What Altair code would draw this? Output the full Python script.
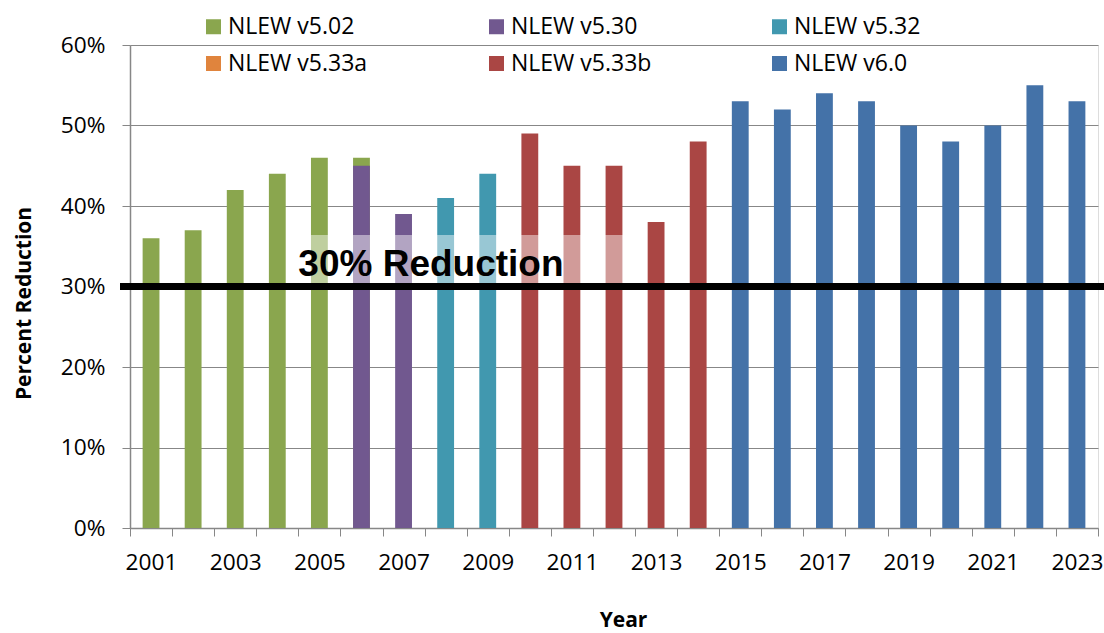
import altair as alt
import pandas as pd

# NLEW nitrogen-reduction estimates by model version
years = list(range(2001, 2024))
versions = ["NLEW v5.02", "NLEW v5.30", "NLEW v5.32", "NLEW v5.33a", "NLEW v5.33b", "NLEW v6.0"]
colors = ["#8aa64e", "#71588f", "#4198af", "#e0843d", "#aa4644", "#4472a8"]

v502_years = [2001, 2002, 2003, 2004, 2005, 2006]
v502_vals = [36, 37, 42, 44, 46, 46]
v530_years = [2006, 2007]
v530_vals = [45, 39]
v532_years = [2008, 2009]
v532_vals = [41, 44]
v533a_years = []
v533a_vals = []
v533b_years = [2010, 2011, 2012, 2013, 2014]
v533b_vals = [49, 45, 45, 38, 48]
v60_years = [2015, 2016, 2017, 2018, 2019, 2020, 2021, 2022, 2023]
v60_vals = [53, 52, 54, 53, 50, 48, 50, 55, 53]

target = 30
target_label = "30% Reduction"

series = [
    (versions[0], v502_years, v502_vals),
    (versions[1], v530_years, v530_vals),
    (versions[2], v532_years, v532_vals),
    (versions[3], v533a_years, v533a_vals),
    (versions[4], v533b_years, v533b_vals),
    (versions[5], v60_years, v60_vals),
]
rows = []
for name, ys, vs in series:
    for y, v in zip(ys, vs):
        rows.append({"year": y, "pct": v, "version": name})
bars_df = pd.DataFrame(rows)

W, H = 968, 483
FONT = "Open Sans"
GRID = "#878787"

x_scale = alt.Scale(domain=years, paddingInner=0, paddingOuter=0)
y_scale = alt.Scale(domain=[0, 60], nice=False)

bars = alt.Chart(bars_df).mark_bar(width=alt.RelativeBandSize(0.4)).encode(
    x=alt.X(
        "year:O",
        scale=x_scale,
        title="Year",
        axis=alt.Axis(
            tickBand="extent",
            labelAngle=0,
            labelExpr="datum.value % 2 == 1 ? datum.label : ''",
            labelFont=FONT,
            labelFontSize=22.7,
            labelColor="black",
            labelPadding=15,
            tickSize=8,
            tickColor=GRID,
            domainColor=GRID,
            domainWidth=1.5,
            grid=False,
            titleFont=FONT,
            titleFontSize=21,
            titleFontWeight="bold",
            titleColor="black",
            titleX=493,
            titleY=98,
            titleBaseline="alphabetic",
        ),
    ),
    y=alt.Y(
        "pct:Q",
        scale=y_scale,
        stack=None,
        title="Percent Reduction",
        axis=alt.Axis(
            values=[0, 10, 20, 30, 40, 50, 60],
            labelExpr="datum.value + '%'",
            labelFont=FONT,
            labelFontSize=22.7,
            labelColor="black",
            labelPadding=17,
            tickSize=8,
            tickColor=GRID,
            domainColor=GRID,
            domainWidth=1.5,
            grid=True,
            gridColor=GRID,
            gridWidth=1.2,
            titleFont=FONT,
            titleFontSize=21,
            titleFontWeight="bold",
            titleColor="black",
            titleX=-100,
            titleY=258,
            titleBaseline="alphabetic",
            titleAngle=270,
        ),
    ),
    color=alt.Color(
        "version:N",
        scale=alt.Scale(domain=versions, range=colors),
        legend=alt.Legend(
            title=None,
            orient="none",
            legendX=72,
            legendY=-30,
            direction="horizontal",
            columns=3,
            columnPadding=116,
            rowPadding=13,
            gridAlign="all",
            padding=0,
            symbolType="square",
            symbolSize=225,
            symbolStrokeWidth=0,
            labelFont=FONT,
            labelFontSize=23,
            labelColor="black",
            labelOffset=3,
        ),
    ),
)

# translucent backing panel behind the target label
box_df = pd.DataFrame({"year": [2004], "year_end": [2013], "top": [36.4], "bottom": [30.2]})
box = alt.Chart(box_df).mark_rect(color="white", opacity=0.46).encode(
    x=alt.X("year:O", scale=x_scale, bandPosition=0.75),
    x2=alt.X2("year_end", bandPosition=0.28),
    y=alt.Y("top:Q", scale=y_scale),
    y2="bottom:Q",
)

target_df = pd.DataFrame({"pct": [target], "year": [2005], "label": [target_label]})
rule = alt.Chart(target_df).mark_rule(color="black", strokeWidth=7).encode(
    y=alt.Y("pct:Q", scale=y_scale),
    x=alt.value(-10),
    x2=alt.value(W + 6),
)
label = alt.Chart(target_df).mark_text(
    font="Liberation Sans",
    fontSize=37,
    fontWeight="bold",
    align="left",
    baseline="alphabetic",
    dy=-10.7,
    color="black",
).encode(
    x=alt.X("year:O", scale=x_scale, bandPosition=0),
    y=alt.Y("pct:Q", scale=y_scale),
    text="label:N",
)

chart = alt.layer(bars, box, rule, label).properties(
    width=W,
    height=H,
    autosize=alt.AutoSizeParams(type="none"),
    padding={"left": 130, "top": 45, "right": 6, "bottom": 105},
).configure_view(stroke=None).configure(background="white")

chart.save("out.html", embed_options={"renderer": "svg", "actions": False})
